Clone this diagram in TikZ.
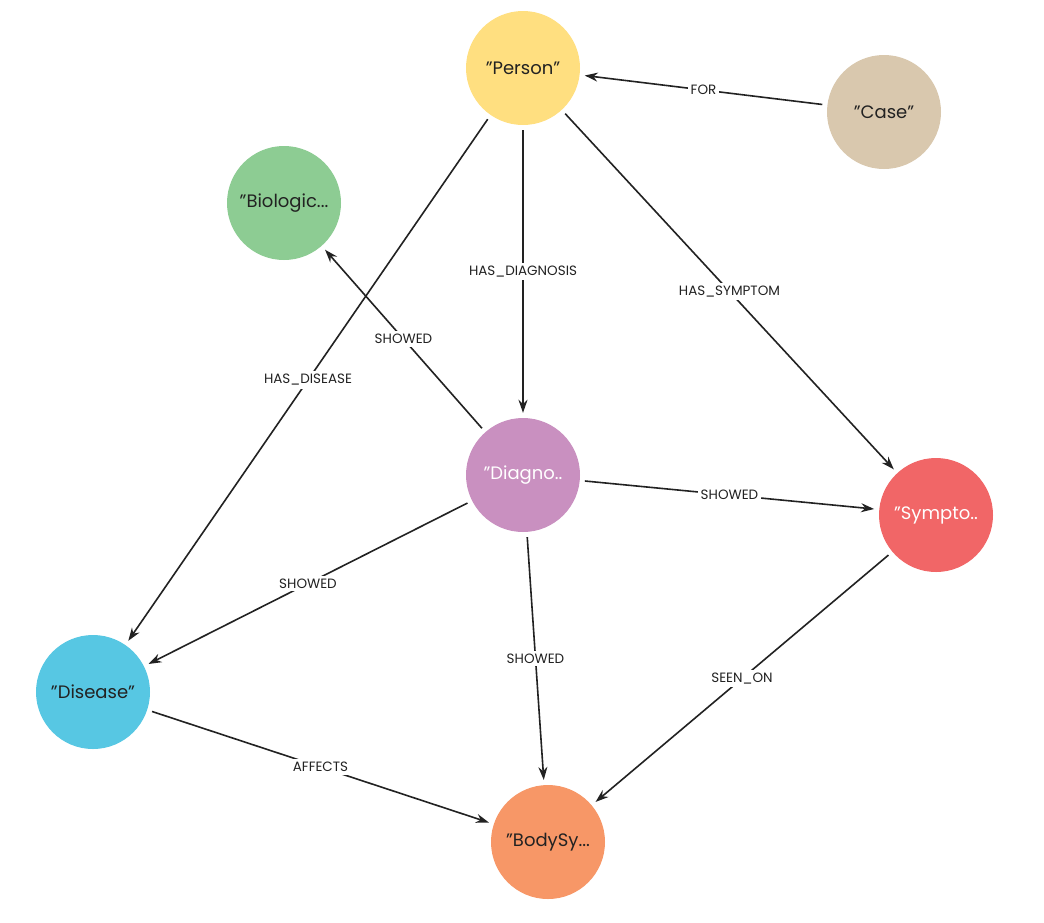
\documentclass[tikz,border=0pt]{standalone}
\usepackage{fontspec}
\setmainfont{Poppins}
\usetikzlibrary{arrows.meta}
\definecolor{cPerson}{HTML}{FFDF80}
\definecolor{cCase}{HTML}{D9C8AE}
\definecolor{cBio}{HTML}{8DCC93}
\definecolor{cDiag}{HTML}{C990C0}
\definecolor{cSym}{HTML}{F16667}
\definecolor{cDis}{HTML}{57C7E3}
\definecolor{cBody}{HTML}{F79767}
\definecolor{ink}{HTML}{222222}
\newcommand{\q}{\symbol{34}}
\begin{document}
\begin{tikzpicture}[x=1pt,y=-1pt,
  n/.style={circle,minimum size=114pt,inner sep=0pt,font=\fontsize{18}{18}\selectfont,text=ink},
  w/.style={text=white},
  e/.style={draw=ink,line width=1.6pt,-{Stealth[length=13pt,width=9pt]},shorten <=5pt,shorten >=5pt},
  l/.style={midway,fill=white,inner sep=3pt,font=\fontsize{13.5}{13.5}\selectfont,text=ink}]
\useasboundingbox[fill=white] (0,0) rectangle (1044,922);
\node[n,fill=cPerson] (person) at (523,68) {\q Person\q};
\node[n,fill=cCase] (case) at (884,112) {\q Case\q};
\node[n,fill=cBio] (bio) at (284,203) {\q Biologic...};
\node[n,fill=cDiag,w] (diag) at (523,475) {\q Diagno..};
\node[n,fill=cSym,w] (sym) at (936,515) {\q Sympto..};
\node[n,fill=cDis] (dis) at (93,692) {\q Disease\q};
\node[n,fill=cBody] (body) at (548,842) {\q BodySy...};
\draw[e] (case) -- (person) node[l] {FOR};
\draw[e] (person) -- (dis) node[l] {HAS\_DISEASE};
\draw[e] (person) -- (diag) node[l] {HAS\_DIAGNOSIS};
\draw[e] (person) -- (sym) node[l] {HAS\_SYMPTOM};
\draw[e] (diag) -- (bio) node[l] {SHOWED};
\draw[e] (diag) -- (sym) node[l] {SHOWED};
\draw[e] (diag) -- (dis) node[l] {SHOWED};
\draw[e] (diag) -- (body) node[l] {SHOWED};
\draw[e] (dis) -- (body) node[l] {AFFECTS};
\draw[e] (sym) -- (body) node[l] {SEEN\_ON};
\end{tikzpicture}
\end{document}
